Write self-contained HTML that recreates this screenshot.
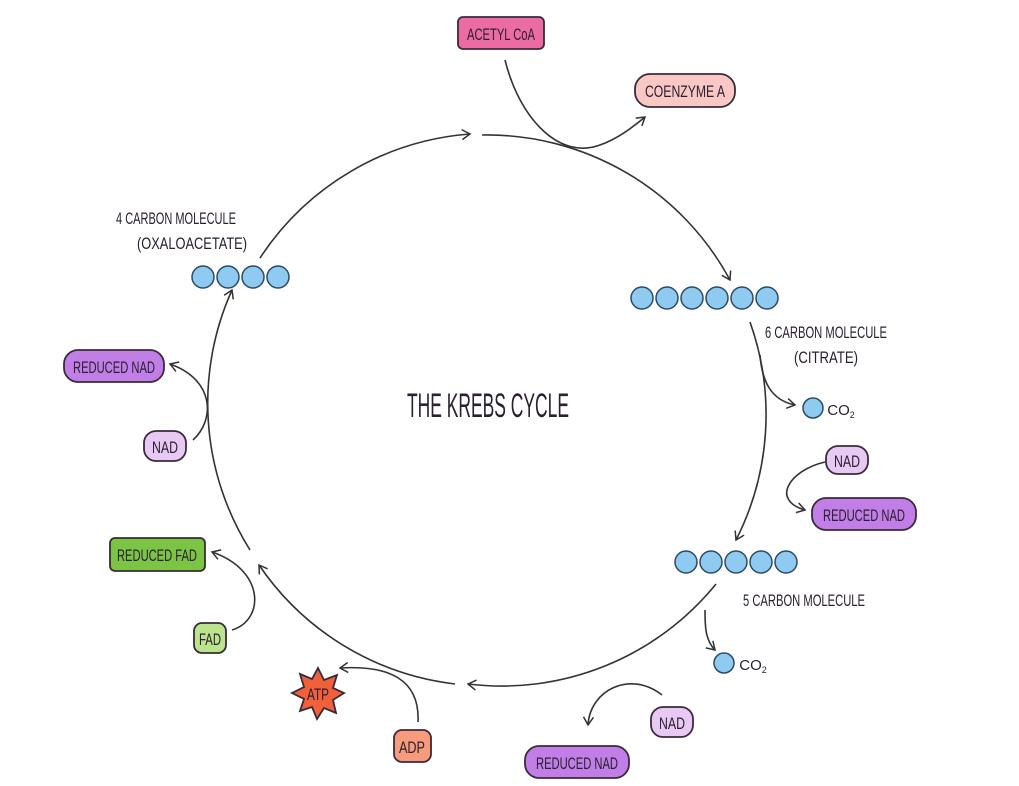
<!DOCTYPE html>
<html><head><meta charset="utf-8"><style>
body{margin:0;background:#fff;}
svg{display:block}
text{font-family:"Liberation Sans",sans-serif;fill:#2a2030}
</style></head><body>
<svg width="1019" height="786" viewBox="0 0 1019 786" xmlns="http://www.w3.org/2000/svg">
<defs>
<marker id="a" markerWidth="12" markerHeight="12" refX="9" refY="6" orient="auto" markerUnits="userSpaceOnUse">
<path d="M1,1 L9,6 L1,11" fill="none" stroke="#333" stroke-width="1.5"/>
</marker>
</defs>
<g fill="none" stroke="#333" stroke-width="1.6">
<path d="M260,258 A276,276 0 0 1 470,134" marker-end="url(#a)"/>
<path d="M482,135 A276,276 0 0 1 730,280" marker-end="url(#a)"/>
<path d="M750,322 A276,276 0 0 1 736,540" marker-end="url(#a)"/>
<path d="M716,584 A276,276 0 0 1 468,684" marker-end="url(#a)"/>
<path d="M455,684 A276,276 0 0 1 259,565" marker-end="url(#a)"/>
<path d="M250,550 A276,276 0 0 1 232,290" marker-end="url(#a)"/>
<path d="M505,60 C520,120 560,160 600,145 C620,138 635,125 645,117" marker-end="url(#a)"/>
<path d="M760,355 C762,380 770,400 795,405" marker-end="url(#a)"/>
<path d="M825,462 C790,470 770,500 805,510" marker-end="url(#a)"/>
<path d="M705,610 C705,625 705,640 715,650" marker-end="url(#a)"/>
<path d="M662,695 C630,670 590,690 588,725" marker-end="url(#a)"/>
<path d="M418,722 C420,680 390,665 340,668" marker-end="url(#a)"/>
<path d="M232,630 C265,620 265,570 212,552" marker-end="url(#a)"/>
<path d="M193,440 C215,420 215,380 170,364" marker-end="url(#a)"/>
</g>
<g fill="#8fcbf0" stroke="#2b4a66" stroke-width="1.5">
<circle cx="203" cy="277" r="11"/><circle cx="228" cy="277" r="11"/><circle cx="253" cy="277" r="11"/><circle cx="278" cy="277" r="11"/>
<circle cx="642" cy="298" r="11"/><circle cx="667" cy="298" r="11"/><circle cx="692" cy="298" r="11"/><circle cx="717" cy="298" r="11"/><circle cx="742" cy="298" r="11"/><circle cx="767" cy="298" r="11"/>
<circle cx="686" cy="562" r="11"/><circle cx="711" cy="562" r="11"/><circle cx="736" cy="562" r="11"/><circle cx="761" cy="562" r="11"/><circle cx="786" cy="562" r="11"/>
<circle cx="813" cy="408" r="10"/>
<circle cx="724" cy="663" r="10"/>
</g>
<g stroke="#3a2a3a" stroke-width="1.8">
<rect x="458" y="17" width="86" height="32" rx="5" fill="#ec6ba3"/>
<rect x="635" y="74" width="100" height="33" rx="15" fill="#f9c8c5"/>
<rect x="64" y="350" width="100" height="32" rx="14" fill="#c07ee6"/>
<rect x="144" y="431" width="42" height="30" rx="12" fill="#e8c9f3"/>
<rect x="826" y="446" width="42" height="28" rx="12" fill="#e8c9f3"/>
<rect x="812" y="498" width="104" height="32" rx="14" fill="#c07ee6"/>
<rect x="651" y="707" width="42" height="30" rx="12" fill="#e8c9f3"/>
<rect x="525" y="746" width="104" height="32" rx="14" fill="#c07ee6"/>
<rect x="110" y="538" width="95" height="33" rx="5" fill="#7cc443"/>
<rect x="194" y="623" width="32" height="30" rx="8" fill="#bbe48c"/>
<rect x="394" y="730" width="37" height="32" rx="8" fill="#f79b7c"/>
<path d="M318,668 L324,680 L337,675 L333,688 L344,693 L333,700 L336,713 L324,708 L317,719 L312,707 L300,711 L304,699 L292,693 L304,687 L300,674 L312,679 Z" fill="#f0603b"/>
</g>
<g font-size="17" text-anchor="middle" lengthAdjust="spacingAndGlyphs">
<text x="501" y="40" textLength="68" lengthAdjust="spacingAndGlyphs">ACETYL CoA</text>
<text x="685" y="97" textLength="80" lengthAdjust="spacingAndGlyphs">COENZYME A</text>
<text x="114" y="373" textLength="82" lengthAdjust="spacingAndGlyphs">REDUCED NAD</text>
<text x="165" y="453" textLength="26" lengthAdjust="spacingAndGlyphs">NAD</text>
<text x="847" y="467" textLength="26" lengthAdjust="spacingAndGlyphs">NAD</text>
<text x="864" y="521" textLength="82" lengthAdjust="spacingAndGlyphs">REDUCED NAD</text>
<text x="672" y="729" textLength="26" lengthAdjust="spacingAndGlyphs">NAD</text>
<text x="577" y="769" textLength="82" lengthAdjust="spacingAndGlyphs">REDUCED NAD</text>
<text x="157" y="561" textLength="80" lengthAdjust="spacingAndGlyphs">REDUCED FAD</text>
<text x="210" y="645" textLength="22" lengthAdjust="spacingAndGlyphs">FAD</text>
<text x="412" y="753" textLength="26" lengthAdjust="spacingAndGlyphs">ADP</text>
<text x="318" y="700" textLength="22" lengthAdjust="spacingAndGlyphs">ATP</text>
<text x="176" y="224" textLength="120" lengthAdjust="spacingAndGlyphs">4 CARBON MOLECULE</text>
<text x="192" y="249" textLength="110" lengthAdjust="spacingAndGlyphs">(OXALOACETATE)</text>
<text x="826" y="338" textLength="122" lengthAdjust="spacingAndGlyphs">6 CARBON MOLECULE</text>
<text x="826" y="363" textLength="64" lengthAdjust="spacingAndGlyphs">(CITRATE)</text>
<text x="804" y="606" textLength="122" lengthAdjust="spacingAndGlyphs">5 CARBON MOLECULE</text>
<text x="841" y="415" font-size="15">CO<tspan font-size="9" dy="3">2</tspan></text>
<text x="753" y="670" font-size="15">CO<tspan font-size="9" dy="3">2</tspan></text>
<text x="488" y="417" font-size="34" textLength="162" lengthAdjust="spacingAndGlyphs">THE KREBS CYCLE</text>
</g>
</svg>
</body></html>
